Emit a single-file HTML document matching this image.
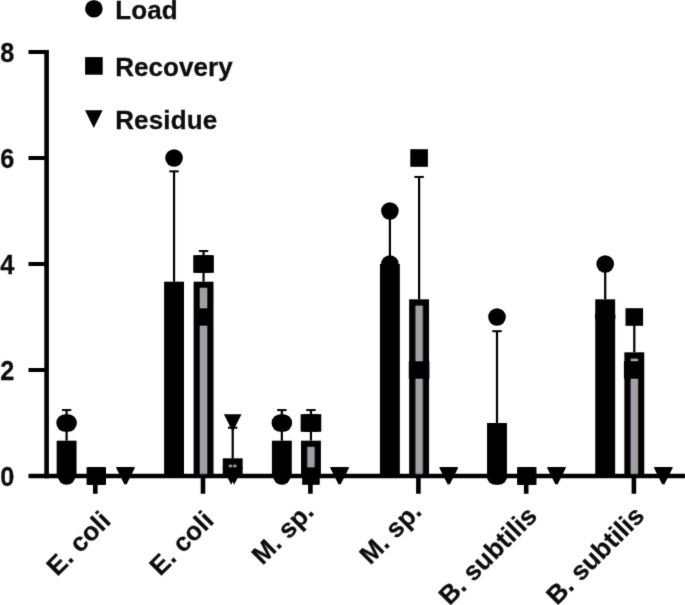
<!DOCTYPE html>
<html><head><meta charset="utf-8"><title>Chart</title>
<style>
html,body{margin:0;padding:0;background:#fff;}
body{width:685px;height:605px;overflow:hidden;font-family:"Liberation Sans", sans-serif;}
svg{display:block;will-change:transform;}
</style></head><body>
<svg width="685" height="605" viewBox="0 0 685 605">
<defs><filter id="bl" x="-2%" y="-2%" width="104%" height="104%"><feConvolveMatrix order="3" kernelMatrix="0.01134 0.08382 0.01134 0.08382 0.61935 0.08382 0.01134 0.08382 0.01134" edgeMode="none"/></filter></defs>
<rect width="685" height="605" fill="#fff"/>
<g filter="url(#bl)">
<g fill="#000">
<rect x="56.65" y="440.67" width="19.9" height="35.33" fill="#000"/>
<rect x="164.10" y="281.67" width="19.9" height="194.33" fill="#000"/>
<rect x="193.60" y="281.67" width="19.9" height="194.33" fill="#000"/>
<rect x="200.00" y="288.07" width="7.10" height="187.93" fill="#a19fa3"/>
<rect x="222.75" y="458.33" width="19.9" height="17.67" fill="#000"/>
<rect x="229.15" y="464.73" width="7.10" height="11.27" fill="#a19fa3"/>
<rect x="271.90" y="440.67" width="19.9" height="35.33" fill="#000"/>
<rect x="301.00" y="440.67" width="19.9" height="35.33" fill="#000"/>
<rect x="307.40" y="447.07" width="7.10" height="28.93" fill="#a19fa3"/>
<rect x="379.95" y="264.00" width="19.9" height="212.00" fill="#000"/>
<rect x="409.15" y="299.33" width="19.9" height="176.67" fill="#000"/>
<rect x="415.55" y="305.73" width="7.10" height="170.27" fill="#a19fa3"/>
<rect x="487.05" y="423.00" width="19.9" height="53.00" fill="#000"/>
<rect x="595.25" y="299.33" width="19.9" height="176.67" fill="#000"/>
<rect x="624.35" y="352.33" width="19.9" height="123.67" fill="#000"/>
<rect x="630.75" y="358.73" width="7.10" height="117.27" fill="#a19fa3"/>
<path d="M44.30 49.90h4.60v428.60h-4.60ZM28.50 49.90h18.00v4.20h-18.00ZM28.50 155.90h18.00v4.20h-18.00ZM28.50 261.90h18.00v4.20h-18.00ZM28.50 367.90h18.00v4.20h-18.00ZM28.50 473.70h657.00v4.50h-657.00ZM93.00 476.00h4.60v17.80h-4.60ZM200.70 476.00h4.60v17.80h-4.60ZM308.10 476.00h4.60v17.80h-4.60ZM416.10 476.00h4.60v17.80h-4.60ZM523.90 476.00h4.60v17.80h-4.60ZM631.60 476.00h4.60v17.80h-4.60Z"/>

<rect x="65.50" y="410.07" width="2.2" height="30.60"/>
<rect x="61.90" y="409.07" width="9.4" height="2.0"/>
<rect x="172.95" y="171.34" width="2.2" height="110.33"/>
<rect x="169.35" y="170.34" width="9.4" height="2.0"/>
<rect x="202.45" y="251.07" width="2.2" height="30.60"/>
<rect x="198.85" y="250.07" width="9.4" height="2.0"/>
<rect x="231.60" y="427.73" width="2.2" height="30.60"/>
<rect x="228.00" y="426.73" width="9.4" height="2.0"/>
<rect x="231.80" y="458.33" width="1.6" height="12"/>
<rect x="280.75" y="410.07" width="2.2" height="30.60"/>
<rect x="277.15" y="409.07" width="9.4" height="2.0"/>
<rect x="309.85" y="410.07" width="2.2" height="30.60"/>
<rect x="306.25" y="409.07" width="9.4" height="2.0"/>
<rect x="388.80" y="211.00" width="2.2" height="53.00"/>
<rect x="385.20" y="210.00" width="9.4" height="2.0"/>
<rect x="418.00" y="176.94" width="2.2" height="122.40"/>
<rect x="414.40" y="175.94" width="9.4" height="2.0"/>
<rect x="495.90" y="331.20" width="2.2" height="91.80"/>
<rect x="492.30" y="330.20" width="9.4" height="2.0"/>
<rect x="604.10" y="268.73" width="2.2" height="30.60"/>
<rect x="600.50" y="267.73" width="9.4" height="2.0"/>
<rect x="633.20" y="321.73" width="2.2" height="30.60"/>
<rect x="629.60" y="320.73" width="9.4" height="2.0"/>
<circle cx="65.10" cy="423.00" r="8.8"/>
<circle cx="68.10" cy="423.00" r="8.8"/>
<circle cx="66.60" cy="476.00" r="8.8"/>
<rect x="86.60" y="467.20" width="17.6" height="17.6"/>
<rect x="87.50" y="467.20" width="17.6" height="17.6"/>
<rect x="88.40" y="467.20" width="17.6" height="17.6"/>
<path d="M115.80 467.15H133.40L124.60 484.85Z"/>
<path d="M116.70 467.15H134.30L125.50 484.85Z"/>
<path d="M117.60 467.15H135.20L126.40 484.85Z"/>
<circle cx="174.05" cy="158.00" r="8.8"/>
<circle cx="174.05" cy="317.00" r="8.8"/>
<circle cx="174.05" cy="370.00" r="8.8"/>
<rect x="193.25" y="255.20" width="17.6" height="17.6"/>
<rect x="196.25" y="255.20" width="17.6" height="17.6"/>
<rect x="194.75" y="308.20" width="17.6" height="17.6"/>
<path d="M223.90 414.15H241.50L232.70 431.85Z"/>
<path d="M222.40 467.15H240.00L231.20 484.85Z"/>
<path d="M225.40 467.15H243.00L234.20 484.85Z"/>
<circle cx="280.35" cy="423.00" r="8.8"/>
<circle cx="283.35" cy="423.00" r="8.8"/>
<circle cx="281.85" cy="476.00" r="8.8"/>
<rect x="300.65" y="414.20" width="17.6" height="17.6"/>
<rect x="303.65" y="414.20" width="17.6" height="17.6"/>
<rect x="302.15" y="467.20" width="17.6" height="17.6"/>
<path d="M329.90 467.15H347.50L338.70 484.85Z"/>
<path d="M330.80 467.15H348.40L339.60 484.85Z"/>
<path d="M331.70 467.15H349.30L340.50 484.85Z"/>
<circle cx="389.90" cy="211.00" r="8.8"/>
<circle cx="389.90" cy="264.00" r="8.8"/>
<circle cx="389.90" cy="317.00" r="8.8"/>
<rect x="410.30" y="149.20" width="17.6" height="17.6"/>
<rect x="408.80" y="361.20" width="17.6" height="17.6"/>
<rect x="411.80" y="361.20" width="17.6" height="17.6"/>
<path d="M439.05 467.15H456.65L447.85 484.85Z"/>
<path d="M439.95 467.15H457.55L448.75 484.85Z"/>
<path d="M440.85 467.15H458.45L449.65 484.85Z"/>
<circle cx="497.00" cy="317.00" r="8.8"/>
<circle cx="495.50" cy="476.00" r="8.8"/>
<circle cx="498.50" cy="476.00" r="8.8"/>
<rect x="517.10" y="467.20" width="17.6" height="17.6"/>
<rect x="518.00" y="467.20" width="17.6" height="17.6"/>
<rect x="518.90" y="467.20" width="17.6" height="17.6"/>
<path d="M546.80 467.15H564.40L555.60 484.85Z"/>
<path d="M547.70 467.15H565.30L556.50 484.85Z"/>
<path d="M548.60 467.15H566.20L557.40 484.85Z"/>
<circle cx="605.20" cy="264.00" r="8.8"/>
<circle cx="603.70" cy="317.00" r="8.8"/>
<circle cx="606.70" cy="317.00" r="8.8"/>
<rect x="625.50" y="308.20" width="17.6" height="17.6"/>
<rect x="623.90" y="361.20" width="17.6" height="17.6"/>
<rect x="626.10" y="361.20" width="17.6" height="17.6"/>
<path d="M653.60 467.15H671.20L662.40 484.85Z"/>
<path d="M654.50 467.15H672.10L663.30 484.85Z"/>
<path d="M655.40 467.15H673.00L664.20 484.85Z"/>
<circle cx="93.9" cy="8.8" r="8.8"/>
<rect x="85.10" y="57.10" width="17.6" height="17.6"/>
<path d="M85.00 110.2H102.60L93.8 127.9Z"/>
</g>
<g fill="#111" font-family="'Liberation Sans', sans-serif" font-weight="bold" font-size="26" stroke="#111" stroke-width="0.3" letter-spacing="0.15">
<text transform="translate(14.5,61.50) scale(0.93,1)" font-size="27.2" text-anchor="end">8</text>
<text transform="translate(14.5,167.50) scale(0.93,1)" font-size="27.2" text-anchor="end">6</text>
<text transform="translate(14.5,273.50) scale(0.93,1)" font-size="27.2" text-anchor="end">4</text>
<text transform="translate(14.5,379.50) scale(0.93,1)" font-size="27.2" text-anchor="end">2</text>
<text transform="translate(14.5,485.50) scale(0.93,1)" font-size="27.2" text-anchor="end">0</text>
<text x="115.2" y="18.7">Load</text>
<text x="115.2" y="75.7" letter-spacing="0.05">Recovery</text>
<text x="115.2" y="128.6">Residue</text>
<text transform="translate(112.20,522.00) rotate(-45)" text-anchor="end">E. coli</text>
<text transform="translate(215.10,521.80) rotate(-45)" text-anchor="end">E. coli</text>
<text transform="translate(315.30,513.00) rotate(-45)" text-anchor="end">M. sp.</text>
<text transform="translate(423.00,512.70) rotate(-45)" text-anchor="end">M. sp.</text>
<text transform="translate(538.50,517.30) rotate(-45)" text-anchor="end">B. subtilis</text>
<text transform="translate(645.90,517.10) rotate(-45)" text-anchor="end">B. subtilis</text>
</g>
</g>
</svg>
</body></html>
